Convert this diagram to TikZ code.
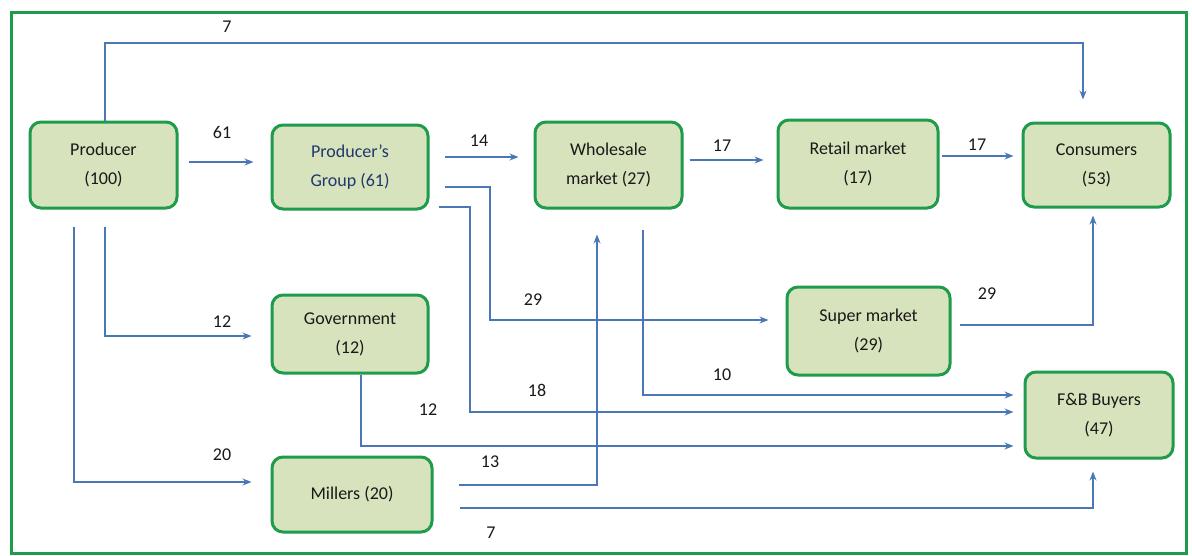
\documentclass[tikz,border=0pt]{standalone}
\usepackage{fontspec}
\setmainfont{Carlito}
\usetikzlibrary{arrows.meta}
\definecolor{bordergreen}{RGB}{30,155,75}
\definecolor{boxfill}{RGB}{215,227,188}
\definecolor{flowblue}{RGB}{74,120,182}
\definecolor{grouptext}{RGB}{31,56,110}
\definecolor{labeltext}{RGB}{25,25,25}
\tikzset{
  box/.style={draw=bordergreen, line width=3pt, fill=boxfill, rounded corners=11pt,
    align=center, inner sep=0pt, font=\fontsize{18}{29}\selectfont, text=labeltext},
  flow/.style={draw=flowblue, line width=1.2pt, -{Stealth[length=9pt,width=7pt]}},
  num/.style={font=\fontsize{18}{22}\selectfont, text=labeltext, inner sep=0pt},
}
\begin{document}
\begin{tikzpicture}[x=1pt,y=-1pt]
\useasboundingbox (0,0) rectangle (1192,555);
\fill[white] (0,0) rectangle (1192,555);
\draw[bordergreen, line width=3pt] (11,12) rectangle (1186,553);

% nodes
\node[box, minimum width=147pt, minimum height=86pt] (P) at (103.5,165) {Producer\\(100)};
\node[box, minimum width=156pt, minimum height=84pt, text=grouptext] (G) at (350,167) {Producer's\\Group (61)};
\node[box, minimum width=147pt, minimum height=86pt] (W) at (608.5,165) {Wholesale\\market (27)};
\node[box, minimum width=160pt, minimum height=88pt] (R) at (858,164) {Retail market\\(17)};
\node[box, minimum width=147pt, minimum height=84pt] (C) at (1096.5,165) {Consumers\\(53)};
\node[box, minimum width=156pt, minimum height=78pt] (Gov) at (350,334) {Government\\(12)};
\node[box, minimum width=160pt, minimum height=75pt] (M) at (352,494.5) {Millers (20)};
\node[box, minimum width=163pt, minimum height=88pt] (S) at (868.5,331) {Super market\\(29)};
\node[box, minimum width=148pt, minimum height=86pt] (F) at (1099,415) {F\&B Buyers\\(47)};

% routing coordinates
\coordinate (t1) at (105,43);
\coordinate (t2) at (1083,43);
\coordinate (a29) at (490,320);
\coordinate (a18) at (470,412);
\coordinate (a10) at (643,395);
\coordinate (a12) at (361,446);
\coordinate (a13) at (597,485);
\coordinate (a7) at (1093,508);
\coordinate (a29b) at (1093,325);
\coordinate (b12) at (105,336);
\coordinate (b20) at (74,482);

% connectors
\draw[flow, shorten >=22pt] (t1 |- P.north) -- (t1) -- (t2) -- (t2 |- C.north);
\draw[flow, shorten <=10pt, shorten >=17pt] ([yshift=3pt]P.east) -- ([yshift=3pt]P.east -| G.west);
\draw[flow, shorten <=15pt, shorten >=15pt] ([yshift=10pt]G.east) -- ([yshift=10pt]G.east -| W.west);
\draw[flow, shorten <=6pt, shorten >=13pt] ([yshift=5pt]W.east) -- ([yshift=5pt]W.east -| R.west);
\draw[flow, shorten <=2pt, shorten >=8pt] ([yshift=8pt]R.east) -- ([yshift=8pt]R.east -| C.west);
\draw[flow, shorten <=15pt, shorten >=17pt] ([yshift=-20pt]G.east) -| (a29) -- (a29 -| S.west);
\draw[flow, shorten <=9pt, shorten >=10pt] ([yshift=-40pt]G.east) -| (a18) -- (a18 -| F.west);
\draw[flow, shorten <=20pt, shorten >=10pt] (a10 |- W.south) -- (a10) -- (a10 -| F.west);
\draw[flow, shorten >=10pt] (a12 |- Gov.south) -- (a12) -- (a12 -| F.west);
\draw[flow, shorten <=25pt, shorten >=25pt] (M.east |- a13) -- (a13) -- (a13 |- W.south);
\draw[flow, shorten <=26pt, shorten >=12pt] (M.east |- a7) -- (a7) -- (a7 |- F.south);
\draw[flow, shorten <=8pt, shorten >=7pt] (S.east |- a29b) -- (a29b) -- (a29b |- C.south);
\draw[flow, shorten <=17pt, shorten >=19pt] (b12 |- P.south) -- (b12) -- (b12 -| Gov.west);
\draw[flow, shorten <=17pt, shorten >=19pt] (b20 |- P.south) -- (b20) -- (b20 -| M.west);

% labels
\node[num] (l1) at (227,27) {7};
\node[num] (l2) at (222,132) {61};
\node[num] (l3) at (479,141) {14};
\node[num] (l4) at (722,146) {17};
\node[num] (l5) at (977,145) {17};
\node[num] (l6) at (533,300) {29};
\node[num] (l7) at (537,390) {18};
\node[num] (l8) at (722,375) {10};
\node[num] (l9) at (428,410) {12};
\node[num] (l10) at (490,462) {13};
\node[num] (l11) at (491,533) {7};
\node[num] (l12) at (987,294) {29};
\node[num] (l13) at (222,322) {12};
\node[num] (l14) at (222,455) {20};
\end{tikzpicture}
\end{document}
